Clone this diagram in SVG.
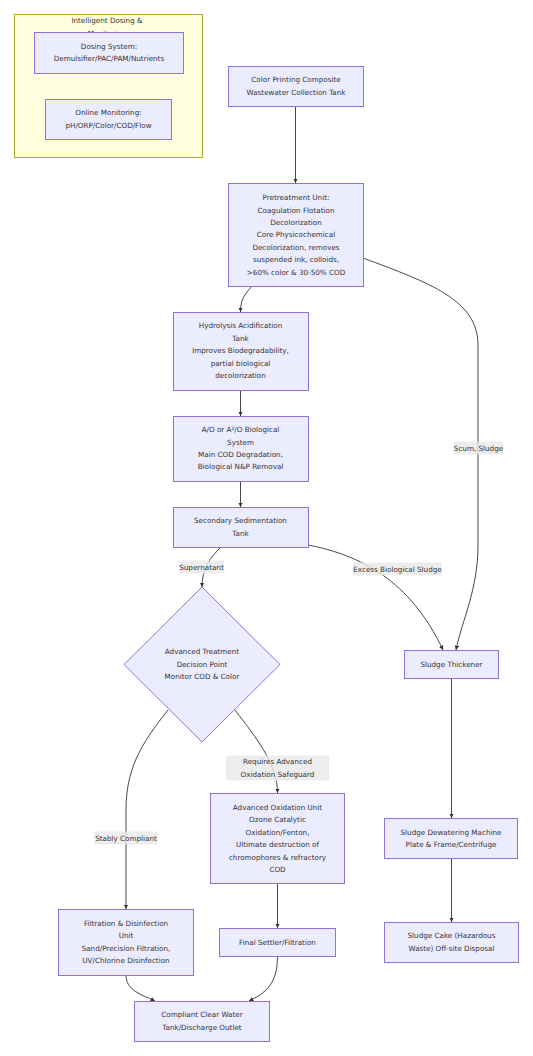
<svg xmlns="http://www.w3.org/2000/svg" width="533" height="1056" viewBox="0 0 533 1056">
<style>
.bg{fill:#ffffff}
.node{fill:#ececff;stroke:#9370db;stroke-width:1}
.cluster{fill:#ffffde;stroke:#aaaa33;stroke-width:1}
.t{font-family:"DejaVu Sans","Liberation Sans",sans-serif;font-size:7.2px;fill:#333333;text-anchor:middle}
.edge{fill:none;stroke:#333333;stroke-width:0.9}
.lbl{fill:#e8e8e8;fill-opacity:0.8}
</style>
<defs>
<marker id="arr" viewBox="0 0 10 10" refX="10" refY="5" markerWidth="4.5" markerHeight="4.5" markerUnits="userSpaceOnUse" orient="auto">
<path d="M0,0 L10,5 L0,10 z" fill="#333333"/>
</marker>
</defs>
<rect class="bg" x="0" y="0" width="533" height="1056"/>
<g id="cluster-dosing">
<rect class="cluster" x="14.5" y="14.5" width="188" height="143"/>
<text class="t" x="107" y="23.2">Intelligent Dosing &amp;</text>
<text class="t" x="107" y="35.6">Monitoring</text>
</g>
<g id="dosing">
<rect class="node" x="34.5" y="32.5" width="149" height="41"/>
<text class="t" x="109" y="49.2">Dosing System:</text>
<text class="t" x="109" y="61.4">Demulsifier/PAC/PAM/Nutrients</text>
</g>
<g id="monitoring">
<rect class="node" x="45.5" y="99.5" width="126" height="40"/>
<text class="t" x="108.5" y="115.2">Online Monitoring:</text>
<text class="t" x="108.5" y="127.8">pH/ORP/Color/COD/Flow</text>
</g>
<g id="edges">
<path class="edge" d="M295.5,106 L295.5,183" marker-end="url(#arr)"/>
<path class="edge" d="M252,286 C244,295 240.5,300 240.5,312" marker-end="url(#arr)"/>
<path class="edge" d="M240.5,390 L240.5,416" marker-end="url(#arr)"/>
<path class="edge" d="M240.5,481 L240.5,507" marker-end="url(#arr)"/>
<path class="edge" d="M221,547 C210,558 202,568 202,587" marker-end="url(#arr)"/>
<path class="edge" d="M308,545 C360,555 410,580 443,650" marker-end="url(#arr)"/>
<path class="edge" d="M363,258 C430,283 478,300 478,345 L478,545 C478,590 462,620 456,650" marker-end="url(#arr)"/>
<path class="edge" d="M168,710 C140,745 126,770 126,810 L126,909" marker-end="url(#arr)"/>
<path class="edge" d="M235,710 C258,740 277.5,765 277.5,793" marker-end="url(#arr)"/>
<path class="edge" d="M277.5,883 L277.5,928" marker-end="url(#arr)"/>
<path class="edge" d="M451.5,678 L451.5,818" marker-end="url(#arr)"/>
<path class="edge" d="M451.5,858 L451.5,922" marker-end="url(#arr)"/>
<path class="edge" d="M126,975 C126,990 140,994 155,1001" marker-end="url(#arr)"/>
<path class="edge" d="M277.5,956 C277.5,985 265,993 249,1001" marker-end="url(#arr)"/>
<rect class="lbl" x="454" y="441.5" width="49" height="13"/>
<text class="t" x="478.5" y="450.6">Scum, Sludge</text>
<rect class="lbl" x="179" y="560.5" width="45" height="13"/>
<text class="t" x="201.5" y="569.6">Supernatant</text>
<rect class="lbl" x="353" y="562.5" width="89" height="13"/>
<text class="t" x="397.5" y="571.6">Excess Biological Sludge</text>
<rect class="lbl" x="226" y="755.5" width="103" height="25"/>
<text class="t" x="277.5" y="764.2">Requires Advanced</text>
<text class="t" x="277.5" y="776.5">Oxidation Safeguard</text>
<rect class="lbl" x="94" y="831.5" width="64" height="13"/>
<text class="t" x="126" y="840.6">Stably Compliant</text>
</g>
<g id="collection">
<rect class="node" x="228.5" y="66.5" width="135" height="40"/>
<text class="t" x="296" y="82.2">Color Printing Composite</text>
<text class="t" x="296" y="94.5">Wastewater Collection Tank</text>
</g>
<g id="pretreatment">
<rect class="node" x="228.5" y="183.5" width="135" height="103"/>
<text class="t" x="296" y="199.5">Pretreatment Unit:</text>
<text class="t" x="296" y="212.5">Coagulation Flotation</text>
<text class="t" x="296" y="224.7">Decolorization</text>
<text class="t" x="296" y="237.2">Core Physicochemical</text>
<text class="t" x="296" y="249.5">Decolorization, removes</text>
<text class="t" x="296" y="262">suspended ink, colloids,</text>
<text class="t" x="296" y="274.5">&gt;60% color &amp; 30-50% COD</text>
</g>
<g id="hydrolysis">
<rect class="node" x="173.5" y="312.5" width="135" height="78"/>
<text class="t" x="240.5" y="328.2">Hydrolysis Acidification</text>
<text class="t" x="240.5" y="340.5">Tank</text>
<text class="t" x="240.5" y="353.2">Improves Biodegradability,</text>
<text class="t" x="240.5" y="365.8">partial biological</text>
<text class="t" x="240.5" y="378.2">decolorization</text>
</g>
<g id="ao">
<rect class="node" x="173.5" y="416.5" width="135" height="65"/>
<text class="t" x="240.5" y="432.2">A/O or A²/O Biological</text>
<text class="t" x="240.5" y="444.5">System</text>
<text class="t" x="240.5" y="456.8">Main COD Degradation,</text>
<text class="t" x="240.5" y="469.2">Biological N&amp;P Removal</text>
</g>
<g id="secondary">
<rect class="node" x="173.5" y="507.5" width="135" height="40"/>
<text class="t" x="240.5" y="523.2">Secondary Sedimentation</text>
<text class="t" x="240.5" y="535.5">Tank</text>
</g>
<g id="decision">
<polygon class="node" points="202,587 280,664.5 202,742 124,664.5"/>
<text class="t" x="202" y="654.2">Advanced Treatment</text>
<text class="t" x="202" y="666.5">Decision Point</text>
<text class="t" x="202" y="678.8">Monitor COD &amp; Color</text>
</g>
<g id="thickener">
<rect class="node" x="404.5" y="650.5" width="94" height="28"/>
<text class="t" x="451.5" y="666.6">Sludge Thickener</text>
</g>
<g id="aou">
<rect class="node" x="210.5" y="793.5" width="134" height="90"/>
<text class="t" x="277.5" y="809.8">Advanced Oxidation Unit</text>
<text class="t" x="277.5" y="822.2">Ozone Catalytic</text>
<text class="t" x="277.5" y="834.5">Oxidation/Fenton,</text>
<text class="t" x="277.5" y="846.8">Ultimate destruction of</text>
<text class="t" x="277.5" y="859.5">chromophores &amp; refractory</text>
<text class="t" x="277.5" y="871.8">COD</text>
</g>
<g id="dewatering">
<rect class="node" x="384.5" y="818.5" width="133" height="40"/>
<text class="t" x="451" y="834.8">Sludge Dewatering Machine</text>
<text class="t" x="451" y="847.2">Plate &amp; Frame/Centrifuge</text>
</g>
<g id="filtration">
<rect class="node" x="58.5" y="909.5" width="135" height="66"/>
<text class="t" x="126" y="925.8">Filtration &amp; Disinfection</text>
<text class="t" x="126" y="938.2">Unit</text>
<text class="t" x="126" y="950.8">Sand/Precision Filtration,</text>
<text class="t" x="126" y="963.2">UV/Chlorine Disinfection</text>
</g>
<g id="finalsettler">
<rect class="node" x="219.5" y="928.5" width="116" height="28"/>
<text class="t" x="277.5" y="944.6">Final Settler/Filtration</text>
</g>
<g id="cake">
<rect class="node" x="384.5" y="922.5" width="134" height="40"/>
<text class="t" x="451.5" y="938.2">Sludge Cake (Hazardous</text>
<text class="t" x="451.5" y="950.8">Waste) Off-site Disposal</text>
</g>
<g id="compliant">
<rect class="node" x="134.5" y="1001.5" width="135" height="40"/>
<text class="t" x="202" y="1017.2">Compliant Clear Water</text>
<text class="t" x="202" y="1029.5">Tank/Discharge Outlet</text>
</g>
</svg>
